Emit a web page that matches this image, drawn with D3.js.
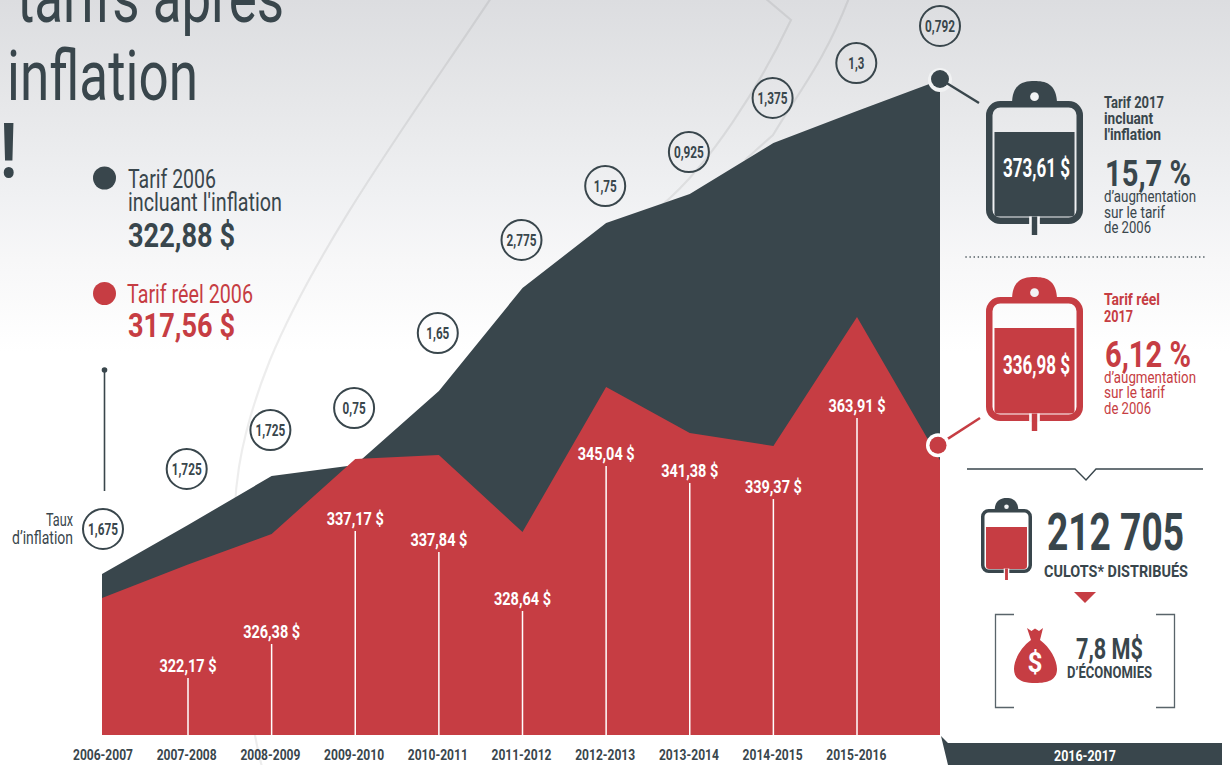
<!DOCTYPE html>
<html lang="fr">
<head>
<meta charset="utf-8">
<script src="https://cdn.jsdelivr.net/npm/d3@7/dist/d3.min.js"></script>
<style>
  html, body { margin: 0; padding: 0; background: #fff; overflow: hidden; }
  svg { display: block; }
</style>
</head>
<body>
<svg id="chart" width="1230" height="765"></svg>
<script>
// Data
const seasons = ["2006-2007","2007-2008","2008-2009","2009-2010","2010-2011","2011-2012",
                 "2012-2013","2013-2014","2014-2015","2015-2016","2016-2017"];
const realTariff = [317.56,322.17,326.38,337.17,337.84,328.64,345.04,341.38,339.37,363.91,336.98];
const inflatedTariff = [322.88,327.91,332.94,334.07,341.67,352.25,358.92,361.90,367.14,370.42,373.61];
const inflationRates = [1.675,1.725,1.725,0.75,1.65,2.775,1.75,0.925,1.375,1.3,0.792];

// Layout
const DARK = "#39464c", RED = "#c63d43";
const BASE_Y = 735;
const stemHeights = [0,57,91,204,183,124,269,252,236,317,0];
const badgeLift = [45,56,46,57,58,48,37,42,45,48,54];

const svg = d3.select("#chart");
const NARROW = "'Liberation Sans Narrow','Roboto','Liberation Sans',sans-serif";

const euro = d3.formatLocale({decimal:",",thousands:" ",grouping:[3],currency:[""," $"]}).format("$.2f");
const comma = v => String(v).replace(".", ",");

// Every label is fitted to a fixed width since the typeface is a tight condensed gothic.
function label(g, str, x, y, size, width, opts = {}) {
  return g.append("text")
    .attr("x", x).attr("y", y)
    .attr("font-family", NARROW)
    .attr("font-size", size)
    .attr("font-weight", opts.light ? 400 : 700)
    .attr("fill", opts.fill || DARK)
    .attr("text-anchor", opts.anchor || "start")
    .attr("textLength", width)
    .attr("lengthAdjust", "spacingAndGlyphs")
    .text(str);
}

// Background wash
const defs = svg.append("defs");
const wash = defs.append("linearGradient").attr("id","wash").attr("x1",0).attr("y1",0).attr("x2",0).attr("y2",1);
[[0,"#dcdde0"],[0.13,"#e6e7e9"],[0.26,"#f0f1f3"],[0.34,"#f7f7f8"],[0.46,"#ffffff"],[1,"#ffffff"]]
  .forEach(([o,c]) => wash.append("stop").attr("offset",o).attr("stop-color",c));
svg.append("rect").attr("width",1230).attr("height",765).attr("fill","url(#wash)");

// Faint backdrop curves
const backdrop = svg.append("g").attr("fill","none").attr("stroke","#000").attr("stroke-opacity",0.07).attr("stroke-width",2.2);
backdrop.append("path").attr("d","M491,-2 C420,105 320,240 270,360 C240,435 228,500 238,570 C243,640 245,700 262,767");
backdrop.append("path").attr("d","M765,-2 L791,20 C760,85 710,165 662,205");
backdrop.append("path").attr("d","M849,-2 C825,60 800,90 773,135 L745,160");

// Title, cut by the top of the page
const title = svg.append("g");
label(title, "tarifs après", 17, 22, 70, 267, {light:true});
label(title, "inflation", 7, 100, 70, 191, {light:true});
label(title, "!", 0, 177, 76, 17);

// Legend
const legend = svg.append("g");
legend.append("circle").attr("cx",104.5).attr("cy",178).attr("r",11.5).attr("fill",DARK);
label(legend, "Tarif 2006", 128, 188, 26, 88, {light:true});
label(legend, "incluant l'inflation", 128, 211, 26, 154, {light:true});
label(legend, euro(inflatedTariff[0]), 128, 247, 33, 107);
legend.append("circle").attr("cx",104.5).attr("cy",293.5).attr("r",11.5).attr("fill",RED);
label(legend, "Tarif réel 2006", 127, 303, 26, 126, {light:true, fill:RED});
label(legend, euro(realTariff[0]), 128, 337, 33, 107, {fill:RED});

// Scales
const xArea = d3.scaleLinear().domain([0,1,9,10]).range([102,188,857,940]);
const xBadge = d3.scalePoint().domain(d3.range(seasons.length)).range([103,940]);
const yInflated = d3.scaleLinear().domain([322.88,373.61]).range([574,80]);
// The real tariff band is stretched unevenly on the page, hence a multi-segment scale.
const yReal = d3.scaleLinear()
  .domain([317.56,326.38,328.64,337,339.37,341.38,345.04,363.91])
  .range([598,534,532,460,446,433,387,317]);

// Areas
const areaOf = y => d3.area().x((d,i) => xArea(i)).y0(BASE_Y).y1(d => y(d));
svg.append("path").datum(inflatedTariff).attr("d",areaOf(yInflated)).attr("fill",DARK);
svg.append("path").datum(realTariff).attr("d",areaOf(yReal)).attr("fill",RED);

// Stems and value labels over the red area
const stems = svg.append("g");
realTariff.forEach((v,i) => {
  if (!stemHeights[i]) return;
  const top = BASE_Y - stemHeights[i];
  stems.append("line").attr("x1",xArea(i)).attr("x2",xArea(i)).attr("y1",top).attr("y2",BASE_Y)
    .attr("stroke","#fff").attr("stroke-width",1.5);
  label(stems, euro(v), xArea(i), top - 6.5, 17.5, 57, {fill:"#fff", anchor:"middle"});
});

// Inflation rate badges
const badges = svg.append("g");
inflationRates.forEach((r,i) => {
  const cx = xBadge(i), cy = yInflated(inflatedTariff[i]) - badgeLift[i];
  badges.append("circle").attr("cx",cx).attr("cy",cy).attr("r",20)
    .attr("fill","none").attr("stroke",DARK).attr("stroke-width",2);
  const s = comma(r);
  label(badges, s, cx, cy + 6, 17, s.length === 5 ? 30 : s.length === 4 ? 23 : 16, {anchor:"middle"});
});
label(badges, "Taux", 73, 526, 18, 27, {light:true, anchor:"end"});
label(badges, "d’inflation", 73, 544, 18, 61, {light:true, anchor:"end"});
badges.append("line").attr("x1",104.5).attr("x2",104.5).attr("y1",370).attr("y2",491)
  .attr("stroke",DARK).attr("stroke-width",1.6);
badges.append("circle").attr("cx",104.5).attr("cy",370).attr("r",2.8).attr("fill",DARK);

// Season labels
const axis = svg.append("g");
seasons.slice(0,-1).forEach((s,i) => label(axis, s, xBadge(i), 760, 15.5, 60, {anchor:"middle"}));
axis.append("path").attr("d","M941,736 L948,743 L1222,743 L1222,765 L948,765 Z").attr("fill",DARK);
label(axis, seasons[10], 1085, 761, 15.5, 62, {anchor:"middle", fill:"#fff"});

// Blood bag pictogram
function bag(g, x0, x1, y0, y1, hookTop, sw, fillTop, stroke, fill, tubeEnd) {
  const cx = (x0 + x1) / 2;
  const hw = (x1 - x0) * 0.232;
  g.append("path")
    .attr("d",`M${cx-hw},${y0+sw/2} C${cx-hw},${hookTop+2} ${cx-hw*0.45},${hookTop} ${cx},${hookTop} C${cx+hw*0.45},${hookTop} ${cx+hw},${hookTop+2} ${cx+hw},${y0+sw/2} Z`)
    .attr("fill",stroke);
  g.append("rect").attr("x",x0+sw/2).attr("y",y0+sw/2).attr("width",x1-x0-sw).attr("height",y1-y0-sw)
    .attr("rx",sw*1.7).attr("fill","none").attr("stroke",stroke).attr("stroke-width",sw);
  const pad = sw + (x1-x0)*0.01;
  g.append("path")
    .attr("d",`M${x0+pad+1},${fillTop} H${x1-pad-1} V${y1-pad-3} Q${x1-pad-1},${y1-pad} ${x1-pad-4},${y1-pad} H${x0+pad+4} Q${x0+pad+1},${y1-pad} ${x0+pad+1},${y1-pad-3} Z`)
    .attr("fill",fill);
  const gap = (x1-x0)*0.055, tube = (x1-x0)*0.028;
  g.append("rect").attr("x",cx-gap).attr("y",y1-sw-1).attr("width",gap*2).attr("height",sw+2).attr("fill","#f8f8f9");
  g.append("rect").attr("x",cx-tube).attr("y",y1-sw-1).attr("width",tube*2).attr("height",tubeEnd-y1+sw+1).attr("fill",fill);
  g.append("circle").attr("cx",cx).attr("cy",y0-(x1-x0)*0.045).attr("r",(x1-x0)*0.045).attr("fill","#f2f3f4");
}

// Inflated tariff panel
const panelA = svg.append("g");
panelA.append("circle").attr("cx",940).attr("cy",yInflated(inflatedTariff[10])).attr("r",12).attr("fill","#f1f2f3");
panelA.append("line").attr("x1",940).attr("y1",79).attr("x2",979).attr("y2",103).attr("stroke",DARK).attr("stroke-width",2.5);
panelA.append("circle").attr("cx",940).attr("cy",79).attr("r",9).attr("fill",DARK);
bag(panelA, 986, 1083, 101, 224, 81, 6.5, 132, DARK, DARK, 235);
label(panelA, euro(inflatedTariff[10]), 1036.5, 177, 25, 67, {fill:"#fff", anchor:"middle"});
label(panelA, "Tarif 2017", 1104, 108, 16, 60);
label(panelA, "incluant", 1104, 124, 16, 49);
label(panelA, "l'inflation", 1104, 140, 16, 57);
label(panelA, "15,7 %", 1105, 186, 37, 86);
label(panelA, "d’augmentation", 1104, 202, 17, 92, {light:true});
label(panelA, "sur le tarif", 1104, 218, 17, 61, {light:true});
label(panelA, "de 2006", 1104, 233, 17, 47, {light:true});

// Dotted separator
svg.append("line").attr("x1",966).attr("x2",1205).attr("y1",257).attr("y2",257)
  .attr("stroke",DARK).attr("stroke-width",1.6).attr("stroke-linecap","round").attr("stroke-dasharray","0.1 4");

// Real tariff panel
const panelB = svg.append("g");
const endY = yReal(realTariff[10]) - 15; // marker sits just above the end of the edge
panelB.append("line").attr("x1",938).attr("y1",endY).attr("x2",980).attr("y2",418).attr("stroke",RED).attr("stroke-width",2.5);
panelB.append("circle").attr("cx",938).attr("cy",endY).attr("r",12).attr("fill","#fff");
panelB.append("circle").attr("cx",938).attr("cy",endY).attr("r",8.5).attr("fill",RED);
bag(panelB, 986, 1083, 297, 421, 277, 6.5, 328, RED, RED, 431);
label(panelB, euro(realTariff[10]), 1036.5, 374, 25, 67, {fill:"#fff", anchor:"middle"});
label(panelB, "Tarif réel", 1104, 305, 16, 56, {fill:RED});
label(panelB, "2017", 1104, 322, 16, 29, {fill:RED});
label(panelB, "6,12 %", 1105, 367, 37, 86, {fill:RED});
label(panelB, "d’augmentation", 1104, 383, 17, 92, {light:true, fill:RED});
label(panelB, "sur le tarif", 1104, 398, 17, 61, {light:true, fill:RED});
label(panelB, "de 2006", 1104, 414, 17, 47, {light:true, fill:RED});

// Units and savings panel
const panelC = svg.append("g");
panelC.append("path").attr("d","M967,469 H1075 L1086,480 L1096,469 H1203")
  .attr("fill","none").attr("stroke",DARK).attr("stroke-width",1.4);
bag(panelC, 981, 1032, 509, 573, 498, 3.5, 527, DARK, RED, 580);
label(panelC, "212 705", 1047, 550, 52, 137);
label(panelC, "CULOTS* DISTRIBUÉS", 1044, 577, 17, 144);
panelC.append("path").attr("d","M1074,592 H1096 L1085,603 Z").attr("fill",RED);
panelC.append("path").attr("d","M1014,614.5 H995.5 V707.5 H1014 M1156,614.5 H1174.5 V707.5 H1156")
  .attr("fill","none").attr("stroke","#59646a").attr("stroke-width",1.3);
panelC.append("path")
  .attr("d","M1027,628 L1031.5,631 L1035,628.5 L1039,631 L1043,628 L1040,640 C1050,647 1057,660 1057,669 C1057,680 1048,683 1035.5,683 C1023,683 1014,680 1014,669 C1014,660 1021,647 1031,640 Z")
  .attr("fill",RED);
label(panelC, "$", 1035, 672, 27, 15, {fill:"#fff", anchor:"middle"});
label(panelC, "7,8 M$", 1076, 659, 29, 67);
label(panelC, "D’ÉCONOMIES", 1067, 678, 16, 85);
</script>
</body>
</html>
